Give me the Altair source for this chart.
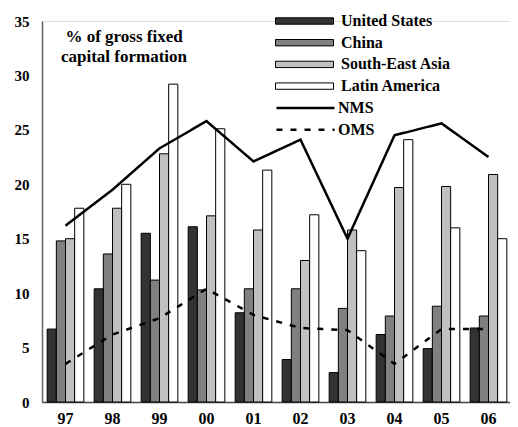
import altair as alt
import pandas as pd

years = ["97", "98", "99", "00", "01", "02", "03", "04", "05", "06"]
bar_series = ["United States", "China", "South-East Asia", "Latin America"]
us = [6.7, 10.4, 15.5, 16.1, 8.2, 3.9, 2.7, 6.2, 4.9, 6.8]
china = [14.8, 13.6, 11.2, 10.3, 10.4, 10.4, 8.6, 7.9, 8.8, 7.9]
sea = [15.0, 17.8, 22.8, 17.1, 15.8, 13.0, 15.8, 19.7, 19.8, 20.9]
latam = [17.8, 20.0, 29.2, 25.1, 21.3, 17.2, 13.9, 24.1, 16.0, 15.0]
line_series = ["NMS", "OMS"]
nms = [16.2, 19.5, 23.3, 25.8, 22.1, 24.1, 15.0, 24.5, 25.6, 22.5]
oms = [3.5, 6.2, 7.7, 10.4, 8.0, 6.8, 6.6, 3.5, 6.7, 6.7]
bar_colors = ["#333333", "#808080", "#c0c0c0", "#ffffff"]
title_lines = ["% of gross fixed", "capital formation"]
y_ticks = [0, 5, 10, 15, 20, 25, 30, 35]

FONT = "Liberation Serif"

bar_rows = []
for name, vals in zip(bar_series, [us, china, sea, latam]):
    for y, v in zip(years, vals):
        bar_rows.append({"year": y, "series": name, "value": v})
bars_df = pd.DataFrame(bar_rows)

line_rows = []
for name, vals in zip(line_series, [nms, oms]):
    for y, v in zip(years, vals):
        line_rows.append({"year": y, "series": name, "value": v})
lines_df = pd.DataFrame(line_rows)

x_enc = alt.X(
    "year:N",
    sort=years,
    scale=alt.Scale(paddingInner=0.22, paddingOuter=0.11, range=[0, 470]),
    axis=alt.Axis(
        title=None, labelAngle=0, ticks=False, labelPadding=8,
        labelFontSize=16, labelFontWeight="bold", labelFont=FONT,
        labelColor="black", domainColor="#444444", domainWidth=1.5,
    ),
)
y_enc = alt.Y(
    "value:Q",
    scale=alt.Scale(domain=[0, 35], nice=False),
    axis=alt.Axis(
        title=None, values=y_ticks, ticks=False, grid=False, labelPadding=13,
        labelFontSize=15, labelFontWeight="bold", labelFont=FONT,
        labelColor="black", domainColor="#666666", domainWidth=1.5,
    ),
)

legend_common = dict(
    title=None, orient="none", legendX=233,
    symbolSize=3364, symbolStrokeColor="black",
    labelFont=FONT, labelFontSize=16, labelFontWeight="bold",
    labelColor="black", clipHeight=16, rowPadding=5.7, padding=0,
)

bars = alt.Chart(bars_df).mark_bar(stroke="black", strokeWidth=1).encode(
    x=x_enc,
    y=y_enc,
    xOffset=alt.XOffset("series:N", sort=bar_series, scale=alt.Scale(paddingInner=0, paddingOuter=0)),
    fill=alt.Fill(
        "series:N",
        sort=bar_series,
        scale=alt.Scale(domain=bar_series, range=bar_colors),
        legend=alt.Legend(
            legendY=-8, symbolType="M-1,-0.11H1V0.11H-1Z",
            symbolStrokeWidth=1, symbolOpacity=1, labelOffset=7,
            **legend_common,
        ),
    ),
)

lines = alt.Chart(lines_df).mark_line(color="black", strokeWidth=2.5).encode(
    x=alt.X("year:N", sort=years),
    y=alt.Y("value:Q"),
    strokeDash=alt.StrokeDash(
        "series:N",
        sort=line_series,
        scale=alt.Scale(domain=line_series, range=[[1, 0], [6, 8]]),
        legend=alt.Legend(
            legendY=79, symbolType="M-1,0H1",
            symbolStrokeWidth=2.5, labelOffset=2,
            **legend_common,
        ),
    ),
)

title_text = alt.Chart(pd.DataFrame({"t": [0]})).mark_text(
    font=FONT, fontSize=17, fontWeight="bold", align="center",
    baseline="alphabetic", lineHeight=20, color="black",
).encode(
    x=alt.value(82), y=alt.value(21), text=alt.value(title_lines)
)

chart = alt.layer(bars, lines, title_text).resolve_scale(
    fill="independent", strokeDash="independent"
).properties(
    width=468, height=381,
    autosize=alt.AutoSizeParams(type="none"),
    padding={"left": 34, "top": 13, "right": 0, "bottom": 25},
).configure_view(stroke=None).configure(background="white")

chart.save("out.html", embed_options={"renderer": "svg", "actions": False})
